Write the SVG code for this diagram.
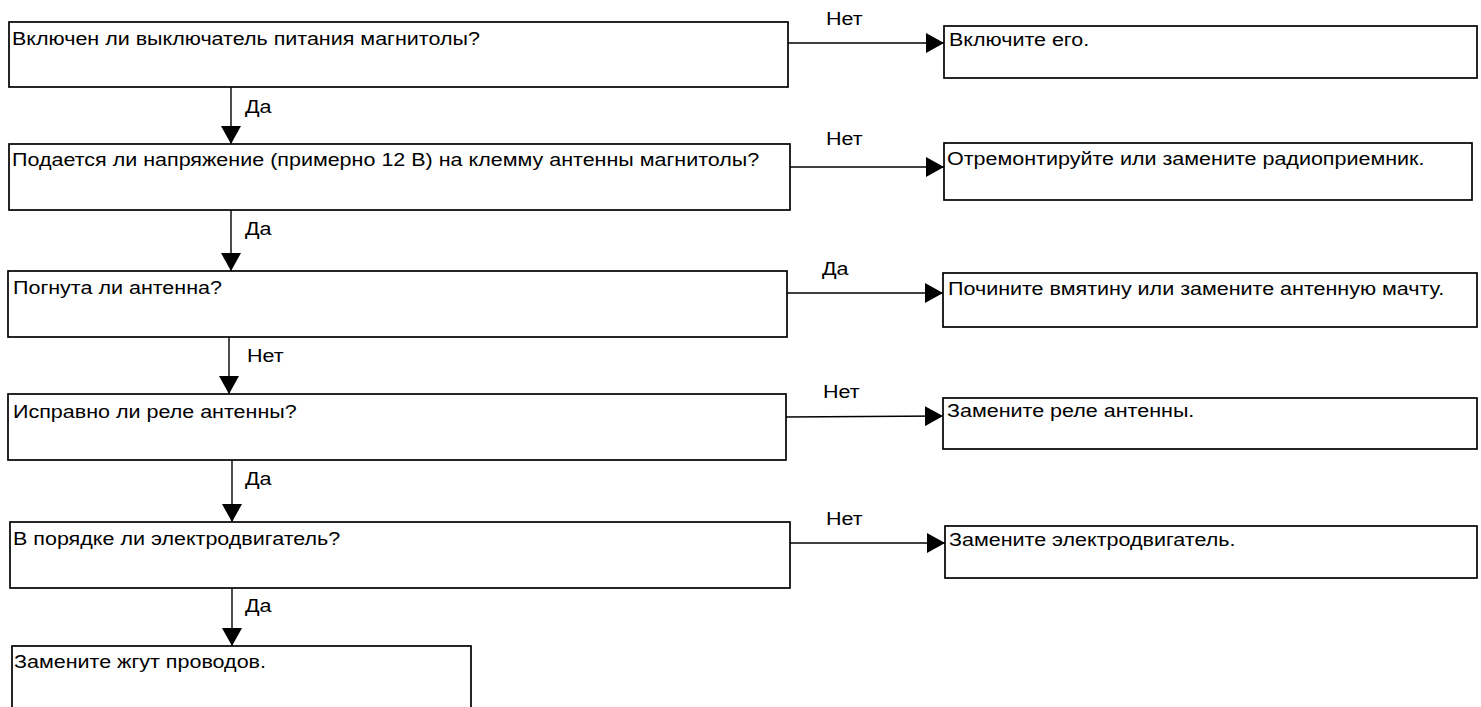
<svg xmlns="http://www.w3.org/2000/svg" width="1481" height="707" viewBox="0 0 1481 707">
<style>
.box{fill:#fff;stroke:#000;stroke-width:1.7}
.t{font-family:"Liberation Sans",Arial,sans-serif;font-size:18.5px;fill:#000}
.c{stroke:#000;stroke-width:1.4;fill:none;marker-end:url(#ah)}
</style>
<defs>
<marker id="ah" markerUnits="userSpaceOnUse" markerWidth="18" markerHeight="20" refX="18" refY="10" orient="auto" viewBox="0 0 18 20">
<path d="M0,0 L18,10 L0,20 Z" fill="#000"/>
</marker>
</defs>
<rect width="1481" height="707" fill="#fff"/>
<g id="connectors">
<line class="c" x1="231" y1="87" x2="231" y2="144"/>
<line class="c" x1="231" y1="210" x2="231" y2="271"/>
<line class="c" x1="229" y1="337" x2="229" y2="394"/>
<line class="c" x1="232" y1="460" x2="232" y2="522"/>
<line class="c" x1="232" y1="588" x2="232" y2="646"/>
<line class="c" x1="788" y1="43" x2="944" y2="43"/>
<line class="c" x1="790" y1="167" x2="944" y2="167"/>
<line class="c" x1="787" y1="293" x2="943" y2="293"/>
<line class="c" x1="786" y1="417" x2="943" y2="416"/>
<line class="c" x1="790" y1="543" x2="945" y2="543"/>
<text class="t" transform="translate(245,113) scale(1.163,1)">Да</text>
<text class="t" transform="translate(245,235) scale(1.163,1)">Да</text>
<text class="t" transform="translate(247,362) scale(1.163,1)">Нет</text>
<text class="t" transform="translate(245,485) scale(1.163,1)">Да</text>
<text class="t" transform="translate(245,612) scale(1.163,1)">Да</text>
<text class="t" transform="translate(826,25) scale(1.163,1)">Нет</text>
<text class="t" transform="translate(826,145) scale(1.163,1)">Нет</text>
<text class="t" transform="translate(822,275) scale(1.163,1)">Да</text>
<text class="t" transform="translate(823,398) scale(1.163,1)">Нет</text>
<text class="t" transform="translate(826,525) scale(1.163,1)">Нет</text>
</g>
<g id="q1">
<rect class="box" x="9" y="22" width="779" height="65"/>
<text class="t" transform="translate(12,45) scale(1.163,1)">Включен ли выключатель питания магнитолы?</text>
</g>
<g id="a1">
<rect class="box" x="944" y="26" width="533" height="52"/>
<text class="t" transform="translate(949,46) scale(1.163,1)">Включите его.</text>
</g>
<g id="q2">
<rect class="box" x="9" y="144" width="781" height="66"/>
<text class="t" transform="translate(12,166) scale(1.163,1)">Подается ли напряжение (примерно 12 В) на клемму антенны магнитолы?</text>
</g>
<g id="a2">
<rect class="box" x="944" y="143" width="528" height="57"/>
<text class="t" transform="translate(947,165) scale(1.163,1)">Отремонтируйте или замените радиоприемник.</text>
</g>
<g id="q3">
<rect class="box" x="8" y="271" width="779" height="66"/>
<text class="t" transform="translate(13,294) scale(1.163,1)">Погнута ли антенна?</text>
</g>
<g id="a3">
<rect class="box" x="943" y="273" width="534" height="54"/>
<text class="t" transform="translate(948,295) scale(1.163,1)">Почините вмятину или замените антенную мачту.</text>
</g>
<g id="q4">
<rect class="box" x="8" y="394" width="778" height="66"/>
<text class="t" transform="translate(13,418) scale(1.163,1)">Исправно ли реле антенны?</text>
</g>
<g id="a4">
<rect class="box" x="943" y="398" width="534" height="51"/>
<text class="t" transform="translate(947,417) scale(1.163,1)">Замените реле антенны.</text>
</g>
<g id="q5">
<rect class="box" x="10" y="522" width="780" height="66"/>
<text class="t" transform="translate(13,545) scale(1.163,1)">В порядке ли электродвигатель?</text>
</g>
<g id="a5">
<rect class="box" x="945" y="526" width="532" height="52"/>
<text class="t" transform="translate(949,546) scale(1.163,1)">Замените электродвигатель.</text>
</g>
<g id="end">
<rect class="box" x="12" y="646" width="459" height="80"/>
<text class="t" transform="translate(14,668) scale(1.163,1)">Замените жгут проводов.</text>
</g>
</svg>
